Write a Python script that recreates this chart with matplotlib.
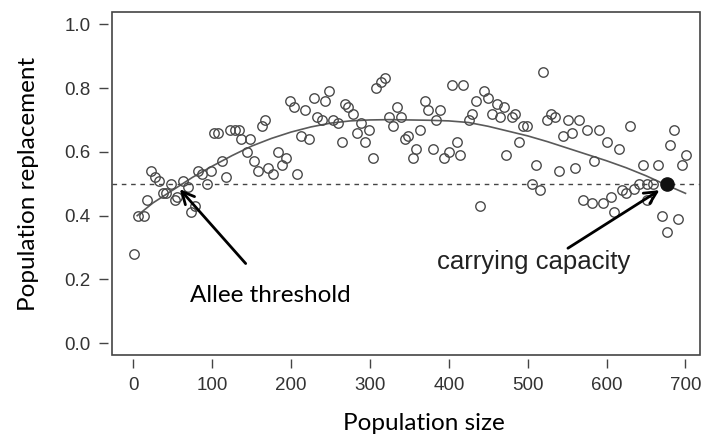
import matplotlib.pyplot as plt
from matplotlib.patches import Rectangle

# observed points: population size vs replacement rate
pop_size = [1, 6, 13, 17, 22, 28, 33, 38, 42, 48, 53, 56, 63, 69, 73, 78, 82, 87, 93, 98,
            102, 108, 113, 117, 123, 129, 134, 137, 144, 148, 153, 158, 163, 167, 171, 177,
            183, 188, 193, 199, 204, 208, 212, 218, 223, 229, 233, 239, 243, 248, 253, 260,
            264, 268, 272, 278, 284, 289, 294, 299, 304, 308, 314, 319, 324, 329, 334, 339,
            344, 348, 355, 359, 364, 370, 374, 380, 384, 389, 394, 400, 404, 410, 414, 418,
            425, 430, 434, 439, 444, 450, 455, 461, 465, 470, 473, 480, 484, 489, 494, 499,
            505, 510, 515, 519, 525, 529, 534, 540, 545, 551, 556, 560, 565, 570, 575, 581,
            584, 590, 595, 600, 606, 610, 616, 620, 625, 630, 635, 641, 646, 651, 651, 659,
            665, 670, 676, 680, 685, 690, 695, 701]
replacement = [0.28, 0.40, 0.40, 0.45, 0.54, 0.52, 0.51, 0.47, 0.47, 0.50, 0.45, 0.46, 0.51, 0.49,
               0.41, 0.43, 0.54, 0.53, 0.50, 0.54, 0.66, 0.66, 0.57, 0.52, 0.67, 0.67, 0.67, 0.64,
               0.60, 0.64, 0.57, 0.54, 0.68, 0.70, 0.55, 0.53, 0.60, 0.56, 0.58, 0.76, 0.74, 0.53,
               0.65, 0.73, 0.64, 0.77, 0.71, 0.70, 0.76, 0.79, 0.70, 0.69, 0.63, 0.75, 0.74, 0.72,
               0.66, 0.69, 0.63, 0.67, 0.58, 0.80, 0.82, 0.83, 0.71, 0.68, 0.74, 0.71, 0.64, 0.65,
               0.58, 0.61, 0.67, 0.76, 0.73, 0.61, 0.70, 0.73, 0.58, 0.60, 0.81, 0.63, 0.59, 0.81,
               0.70, 0.72, 0.76, 0.43, 0.79, 0.77, 0.72, 0.75, 0.71, 0.74, 0.59, 0.71, 0.72, 0.63,
               0.68, 0.68, 0.50, 0.56, 0.48, 0.85, 0.70, 0.72, 0.71, 0.54, 0.65, 0.70, 0.66, 0.55,
               0.70, 0.45, 0.67, 0.44, 0.57, 0.67, 0.44, 0.63, 0.46, 0.41, 0.61, 0.48, 0.47, 0.68,
               0.485, 0.50, 0.56, 0.50, 0.45, 0.50, 0.56, 0.40, 0.35, 0.62, 0.67, 0.39, 0.56, 0.59]

# fitted curve
curve_x = [5, 25, 50, 75, 100, 125, 150, 175, 200, 225, 250, 275, 300, 325, 350, 375, 400,
           425, 450, 475, 500, 525, 550, 575, 600, 625, 650, 675, 700]
curve_y = [0.40, 0.44, 0.48, 0.52, 0.555, 0.588, 0.618, 0.642, 0.662, 0.678, 0.69, 0.697,
           0.70, 0.701, 0.70, 0.699, 0.697, 0.692, 0.68, 0.665, 0.65, 0.632, 0.612, 0.592,
           0.572, 0.55, 0.525, 0.497, 0.47]

threshold = 0.5
carrying_capacity = (676, 0.50)
allee_point = (59, 0.483)

x_ticks = [0, 100, 200, 300, 400, 500, 600, 700]
y_ticks = [0.0, 0.2, 0.4, 0.6, 0.8, 1.0]

fig = plt.figure(figsize=(7.07, 4.41), dpi=100)
ax = fig.add_axes([0.1588, 0.195, 0.8312, 0.778])

ax.axhline(threshold, color="#444444", lw=1.0, dashes=(3.3, 3.4), zorder=1)
ax.plot(curve_x, curve_y, color="#5a5a5a", lw=1.2, zorder=2)
ax.plot(pop_size, replacement, "o", ms=6.8, mfc="none", mec="#4a4a4a", mew=1.0, zorder=3)
ax.plot(*carrying_capacity, "o", ms=9.5, color="#111111", zorder=4)

ax.annotate("", xy=allee_point, xytext=(142.5, 0.25),
            arrowprops=dict(arrowstyle="->", lw=2, color="black", mutation_scale=22,
                            shrinkA=0, shrinkB=0))
ax.annotate("", xy=(667, 0.48), xytext=(551, 0.298),
            arrowprops=dict(arrowstyle="->", lw=2, color="black", mutation_scale=22,
                            shrinkA=0, shrinkB=0))
ax.text(72, 0.151, "Allee threshold", fontfamily="Lato", fontsize=17.5, va="center", ha="left")
ax.text(385, 0.255, "carrying capacity", fontfamily="Liberation Sans", fontsize=18.5,
        color="#222222", va="center", ha="left")

ax.set_xlim(-26.6, 718.3)
ax.set_ylim(-0.0367, 1.0386)
ax.set_xticks(x_ticks)
ax.set_yticks(y_ticks)
ax.set_yticklabels([f"{v:.1f}" for v in y_ticks])

for side in ["left", "bottom"]:
    ax.spines[side].set_position(("outward", 3))
    ax.spines[side].set_color("none")
for side in ["top", "right"]:
    ax.spines[side].set_visible(False)
ax.add_patch(Rectangle((0, 0), 1, 1, transform=ax.transAxes, fill=False,
                       ec="#444444", lw=1.2, clip_on=False, zorder=5))

ax.tick_params(direction="out", length=6.5, width=1, color="#444444", pad=6,
               labelsize=13.5, labelcolor="#333333")
for lab in ax.get_xticklabels() + ax.get_yticklabels():
    lab.set_fontfamily("Liberation Sans")

ax.set_xlabel("Population size", fontfamily="Lato", fontsize=17.5)
ax.set_ylabel("Population replacement", fontfamily="Lato", fontsize=17.5)
ax.xaxis.set_label_coords(0.53, -0.17)
ax.yaxis.set_label_coords(-0.125, 0.5)

fig.savefig("out.png", dpi=100)
